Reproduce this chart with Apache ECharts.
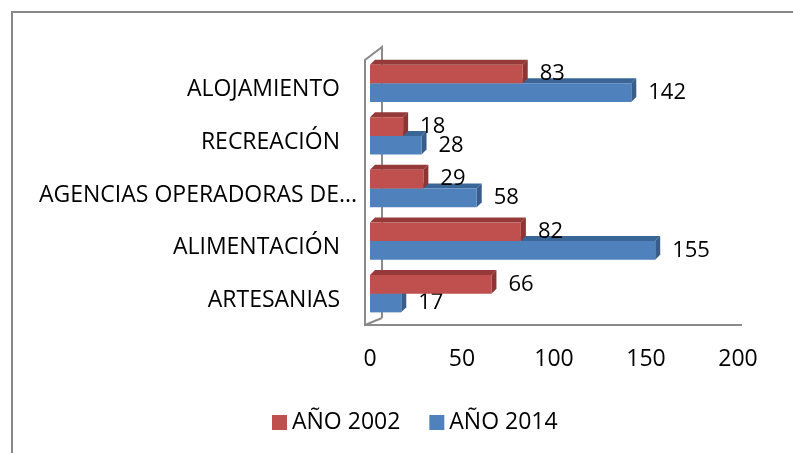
<!DOCTYPE html>
<html>
<head>
<meta charset="utf-8">
<script src="https://cdn.jsdelivr.net/npm/echarts@6/dist/echarts.min.js"></script>
<style>
  html, body { margin: 0; padding: 0; background: #fff; }
  #chart { width: 793px; height: 453px; }
</style>
</head>
<body>
<div id="chart"></div>
<script>
// categorias de abajo hacia arriba
const categories = ["ARTESANIAS", "ALIMENTACIÓN", "AGENCIAS OPERADORAS DE...", "RECREACIÓN", "ALOJAMIENTO"];
const values2002 = [66, 82, 29, 18, 83];
const values2014 = [17, 155, 58, 28, 142];
const xTicks = { min: 0, max: 200, interval: 50 };

const FONT = '"Open Sans", "Noto Sans", sans-serif';
const colors = {
    red: { face: "#C0504D", top: "#953A38", side: "#8C3533" },
    blue: { face: "#4F81BD", top: "#3A6597", side: "#385D8A" }
};

// barra con efecto 3d (cara frontal + tapa + lado)
const bar3d = (up, c) => (params, api) => {
    const val = api.value(0);
    const cat = api.value(1);
    const end = api.coord([val, cat]);
    const start = api.coord([0, cat]);
    const band = api.size([0, 1])[1];
    const h = band * 0.355;
    const y0 = up ? end[1] - h : end[1];
    const x0 = start[0], x1 = end[0];
    const dx = 5, dy = 5;
    return {
        type: "group",
        children: [
            { type: "polygon", shape: { points: [[x0, y0], [x0 + dx, y0 - dy], [x1 + dx, y0 - dy], [x1, y0]] }, style: { fill: c.top } },
            { type: "polygon", shape: { points: [[x1, y0], [x1 + dx, y0 - dy], [x1 + dx, y0 + h - dy], [x1, y0 + h]] }, style: { fill: c.side } },
            { type: "rect", shape: { x: x0, y: y0, width: x1 - x0, height: h }, style: { fill: c.face } },
            { type: "text", style: { text: String(val), x: x1 + 17, y: y0 + h / 2, verticalAlign: "middle", font: "22px " + FONT, fill: "#000" } }
        ]
    };
};

const chart = echarts.init(document.getElementById("chart"), null, { renderer: "canvas" });

const wall = "#8a8a8a";
const option = {
    animation: false,
    backgroundColor: "#fff",
    grid: { left: 370, right: 55, top: 57, bottom: 133 },
    xAxis: {
        type: "value",
        min: xTicks.min, max: xTicks.max, interval: xTicks.interval,
        axisLine: { show: false }, axisTick: { show: false }, splitLine: { show: false },
        axisLabel: { margin: 28, fontSize: 23, fontFamily: FONT, color: "#000" }
    },
    yAxis: {
        type: "category",
        data: categories,
        axisLine: { show: false }, axisTick: { show: false },
        // texto un poco mas abajo que el centro de la banda
        axisLabel: {
            margin: 30, fontSize: 23, fontFamily: FONT, color: "#000", verticalAlign: "top", lineHeight: 13,
            // la etiqueta recortada sobresale un poco a la derecha
            formatter: (v) => v.endsWith("...") ? "{long|" + v + "}" : v,
            rich: { long: { width: 301, align: "left", fontSize: 23, fontFamily: FONT, color: "#000", lineHeight: 13 } }
        }
    },
    legend: {
        data: ["AÑO 2002", "AÑO 2014"],
        left: 267, top: 406,
        icon: "rect", itemWidth: 15, itemHeight: 15, itemGap: 29,
        textStyle: { fontSize: 23, fontFamily: FONT, color: "#000" }
    },
    graphic: [
        { type: "rect", z: 0, shape: { x: 12, y: 12, width: 820, height: 480 }, style: { fill: null, stroke: "#888", lineWidth: 2 } },
        { type: "polyline", z: 0, shape: { points: [[382, 318], [382, 47], [365, 60], [365, 325], [742, 325]] }, style: { fill: null, stroke: wall, lineWidth: 2 } },
        { type: "line", z: 0, shape: { x1: 365, y1: 325, x2: 382, y2: 318 }, style: { stroke: wall, lineWidth: 2 } }
    ],
    series: [
        {
            name: "AÑO 2014", type: "custom",
            itemStyle: { color: colors.blue.face },
            encode: { x: 0, y: 1 },
            data: values2014.map((v, i) => [v, i]),
            renderItem: bar3d(false, colors.blue)
        },
        {
            name: "AÑO 2002", type: "custom",
            itemStyle: { color: colors.red.face },
            encode: { x: 0, y: 1 },
            data: values2002.map((v, i) => [v, i]),
            renderItem: bar3d(true, colors.red)
        }
    ]
};
chart.setOption(option);
window.addEventListener("resize", chart.resize);
</script>
</body>
</html>
